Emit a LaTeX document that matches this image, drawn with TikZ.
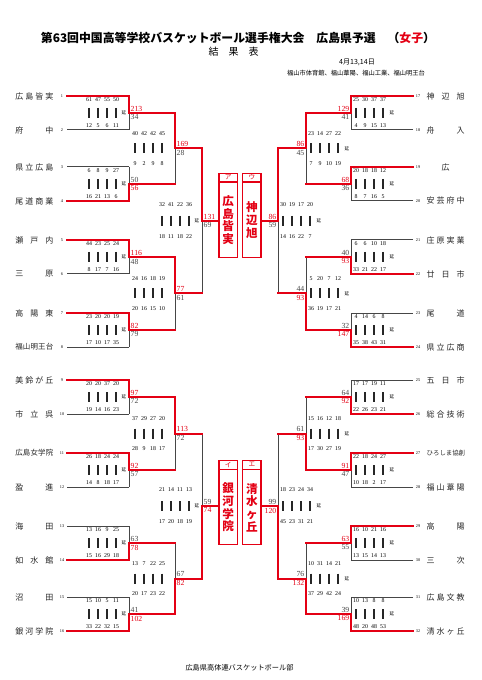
\documentclass[tikz,border=0pt]{standalone}
\usepackage{fontspec}
\setmainfont{Liberation Serif}
\newfontfamily\cjk{Noto Sans CJK JP}
\definecolor{rd}{RGB}{228,0,20}
\definecolor{bk}{RGB}{70,70,70}
\pgfdeclarelayer{losel}
\pgfdeclarelayer{winl}
\pgfdeclarelayer{redl}
\pgfsetlayers{main,losel,winl,redl}
\tikzset{
 win/.style={draw=rd, line width=1.5pt, line cap=rect},
 lose/.style={draw=bk, line width=0.75pt},
 barst/.style={draw=black!85, line width=0.9pt},
 namef/.style={font=\cjk\fontsize{6}{7}\selectfont, inner sep=0pt, text=black!85},
 numf/.style={font=\fontsize{3.2}{3.5}\selectfont, inner sep=0pt},
 perf/.style={font=\fontsize{4.4}{5}\selectfont, inner sep=0pt},
 scf/.style={font=\fontsize{5.8}{6}\selectfont, inner sep=0pt},
 enf/.style={font=\cjk\fontsize{3.4}{3.5}\selectfont, inner sep=0pt},
 boxst/.style={draw=rd, line width=1.1pt, minimum width=13.7pt, minimum height=63pt, inner sep=0pt},
 hdf/.style={font=\cjk\fontsize{5}{5}\selectfont, text=rd, inner sep=0pt},
 bodyf/.style={font=\cjk\bfseries\fontsize{8.7}{9.5}\selectfont, text=rd, inner sep=0pt, align=center},
}
\newcommand\nm[1]{\makebox[28.5pt][s]{#1}}
\newcommand\nmf[2]{{\fontsize{#1}{6}\selectfont\makebox[28.5pt][s]{#2}}}
\newcommand\teamL[4]{%
 \node[namef, anchor=west] (tn#1) at (15,#2) {#3};
 \node[numf] (tk#1) at (62,#2) {#1};
 \coordinate (ts#1) at (67,#2);
 \coordinate (te#1) at (129,#2);
 \begin{pgfonlayer}{#4l}\draw[#4] (ts#1) -- (te#1);\end{pgfonlayer}
}
\newcommand\teamR[4]{%
 \node[namef, anchor=east] (tn#1) at (465,#2) {#3};
 \node[numf] (tk#1) at (418,#2) {#1};
 \coordinate (ts#1) at (413,#2);
 \coordinate (te#1) at (351,#2);
 \begin{pgfonlayer}{#4l}\draw[#4] (ts#1) -- (te#1);\end{pgfonlayer}
}
\newcommand\match[9]{%
 \pgfmathsetmacro\ym{(#3+#4)/2}%
 \coordinate (#9t) at (#2,#3);
 \coordinate (#9b) at (#2,#4);
 \coordinate (#9m) at (#2,\ym);
 \coordinate (#9o) at (#5,\ym);
 \ifnum#6=1
  \draw[lose] (#9m) -- (#9b);
  \begin{pgfonlayer}{redl}\draw[win] (#9t) -- (#9m);\end{pgfonlayer}
  \def\ctop{rd}\def\cbot{bk}%
 \else
  \draw[lose] (#9t) -- (#9m);
  \begin{pgfonlayer}{redl}\draw[win] (#9m) -- (#9b);\end{pgfonlayer}
  \def\ctop{bk}\def\cbot{rd}%
 \fi
 \begin{pgfonlayer}{redl}\draw[win] (#9m) -- (#9o);\end{pgfonlayer}
 \ifnum#1=0
  \node[scf, anchor=south west, text=\ctop] (#9st) at ([xshift=1.1pt,yshift=1.2pt]#9m) {#7};
  \node[scf, anchor=north west, text=\cbot] (#9sb) at ([xshift=1.1pt,yshift=-1.2pt]#9m) {#8};
 \else
  \node[scf, anchor=south east, text=\ctop] (#9st) at ([xshift=-1.1pt,yshift=1.2pt]#9m) {#7};
  \node[scf, anchor=north east, text=\cbot] (#9sb) at ([xshift=-1.1pt,yshift=-1.2pt]#9m) {#8};
 \fi
}
\newcommand\per[9]{%
 \pgfmathsetmacro\pym{(#3+#4)/2}%
 \ifnum#1=0 \def\pxo{-49}\def\pex{-5}\else\def\pxo{-4}\def\pex{41}\fi
 \foreach \v [count=\i] in {#6} {\node[perf] (#9p\i) at ({#2+\pxo+9*\i},{\pym-#5}) {\v};}
 \foreach \v [count=\i] in {#7} {\node[perf] (#9q\i) at ({#2+\pxo+9*\i},{\pym+#5}) {\v};}
 \foreach \i in {1,...,4} {\draw[barst] ({#2+\pxo+9*\i},{\pym-5}) -- ({#2+\pxo+9*\i},{\pym+5});}
 \ifnum#8=1 \node[enf] (#9en) at ({#2+\pex},\pym) {延};\fi
}
\begin{document}
\begin{tikzpicture}[x=0.75pt,y=-0.75pt]
\useasboundingbox (0,0) rectangle (481,680);
\fill[white] (0,0) rectangle (481,680);
% headings
\node[font=\cjk\bfseries\fontsize{8.9}{9}\selectfont, inner sep=0pt] (title) at (238,38)
 {第63回中国高等学校バスケットボール選手権大会　広島県予選　（\textcolor{rd}{女子}）};
\node[font=\cjk\fontsize{7.5}{8}\selectfont, inner sep=0pt] (sub) at (233.5,52) {結　果　表};
\node[font=\cjk\fontsize{5.3}{6}\selectfont, inner sep=0pt] (date) at (357,62) {4月13,14日};
\node[font=\cjk\fontsize{4.7}{5}\selectfont, inner sep=0pt] (venue) at (356,73.3) {福山市体育館、福山葦陽、福山工業、福山明王台};
\node[font=\cjk\fontsize{5.4}{6}\selectfont, inner sep=0pt] (foot) at (239.5,668) {広島県高体連バスケットボール部};
% left teams
\teamL{1}{96}{\nm{広\hfill 島\hfill 皆\hfill 実}}{win}
\teamL{2}{130}{\nm{府\hfill 中}}{lose}
\teamL{3}{167}{\nm{県\hfill 立\hfill 広\hfill 島}}{lose}
\teamL{4}{201}{\nm{尾\hfill 道\hfill 商\hfill 業}}{win}
\teamL{5}{240}{\nm{瀬\hfill 戸\hfill 内}}{win}
\teamL{6}{274}{\nm{三\hfill 原}}{lose}
\teamL{7}{313}{\nm{高\hfill 陽\hfill 東}}{win}
\teamL{8}{347}{\nmf{5.6}{福\hfill 山\hfill 明\hfill 王\hfill 台}}{lose}
\teamL{9}{380}{\nm{美\hfill 鈴\hfill が\hfill 丘}}{win}
\teamL{10}{414}{\nm{市\hfill 立\hfill 呉}}{lose}
\teamL{11}{453}{\nmf{5.6}{広\hfill 島\hfill 女\hfill 学\hfill 院}}{win}
\teamL{12}{487}{\nm{盈\hfill 進}}{lose}
\teamL{13}{526}{\nm{海\hfill 田}}{lose}
\teamL{14}{560}{\nm{如\hfill 水\hfill 館}}{win}
\teamL{15}{597}{\nm{沼\hfill 田}}{lose}
\teamL{16}{631}{\nm{銀\hfill 河\hfill 学\hfill 院}}{win}
% right teams
\teamR{17}{96}{\nm{神\hfill 辺\hfill 旭}}{win}
\teamR{18}{130}{\nm{舟\hfill 入}}{lose}
\teamR{19}{167}{\nm{\hfill 広\hfill}}{win}
\teamR{20}{201}{\nm{安\hfill 芸\hfill 府\hfill 中}}{lose}
\teamR{21}{240}{\nm{庄\hfill 原\hfill 実\hfill 業}}{lose}
\teamR{22}{274}{\nm{廿\hfill 日\hfill 市}}{win}
\teamR{23}{313}{\nm{尾\hfill 道}}{lose}
\teamR{24}{347}{\nm{県\hfill 立\hfill 広\hfill 商}}{win}
\teamR{25}{380}{\nm{五\hfill 日\hfill 市}}{lose}
\teamR{26}{414}{\nm{総\hfill 合\hfill 技\hfill 術}}{win}
\teamR{27}{453}{\nmf{4.8}{ひろしま協創}}{win}
\teamR{28}{487}{\nm{福\hfill 山\hfill 葦\hfill 陽}}{lose}
\teamR{29}{526}{\nm{高\hfill 陽}}{win}
\teamR{30}{560}{\nm{三\hfill 次}}{lose}
\teamR{31}{597}{\nm{広\hfill 島\hfill 文\hfill 教}}{lose}
\teamR{32}{631}{\nm{清\hfill 水\hfill ヶ\hfill 丘}}{win}
% left round 1
\match{0}{129}{96}{130}{175}{1}{213}{34}{ma}
\per{0}{129}{96}{130}{13}{61,47,55,50}{12,5,6,11}{1}{ma}
\match{0}{129}{167}{201}{175}{2}{50}{56}{mb}
\per{0}{129}{167}{201}{13}{6,8,9,27}{16,21,13,6}{1}{mb}
\match{0}{129}{240}{274}{175}{1}{116}{48}{mc}
\per{0}{129}{240}{274}{13}{44,23,25,24}{8,17,7,16}{1}{mc}
\match{0}{129}{313}{347}{175}{1}{82}{79}{md}
\per{0}{129}{313}{347}{13}{23,20,20,19}{17,10,17,35}{1}{md}
\match{0}{129}{380}{414}{175}{1}{97}{72}{me}
\per{0}{129}{380}{414}{13}{20,20,37,20}{19,14,16,23}{1}{me}
\match{0}{129}{453}{487}{175}{1}{92}{57}{mf}
\per{0}{129}{453}{487}{13}{26,18,24,24}{14,8,18,17}{1}{mf}
\match{0}{129}{526}{560}{175}{2}{63}{78}{mg}
\per{0}{129}{526}{560}{13}{13,16,9,25}{15,16,29,18}{1}{mg}
\match{0}{129}{597}{631}{175}{2}{41}{102}{mh}
\per{0}{129}{597}{631}{13}{15,10,5,11}{33,22,32,15}{1}{mh}
% left round 2
\match{0}{175}{113}{184}{202}{1}{169}{28}{ra}
\per{0}{175}{113}{184}{15}{40,42,42,45}{9,2,9,8}{0}{ra}
\match{0}{175}{257}{330}{202}{1}{77}{61}{rb}
\per{0}{175}{257}{330}{15}{24,16,18,19}{20,16,15,10}{0}{rb}
\match{0}{175}{397}{470}{202}{1}{113}{72}{rc}
\per{0}{175}{397}{470}{15}{37,29,27,20}{28,9,18,17}{0}{rc}
\match{0}{175}{543}{614}{202}{2}{67}{82}{rd}
\per{0}{175}{543}{614}{15}{13,7,22,25}{20,17,23,22}{0}{rd}
% left semis
\match{0}{202}{148.5}{293.5}{219}{1}{131}{69}{sa}
\per{0}{202}{148.5}{293.5}{16}{32,41,22,36}{18,11,18,22}{1}{sa}
\match{0}{202}{433.5}{578.5}{219}{2}{59}{74}{sb}
\per{0}{202}{433.5}{578.5}{16}{21,14,11,13}{17,20,18,19}{1}{sb}
% right round 1
\match{1}{351}{96}{130}{306}{1}{129}{41}{mi}
\per{1}{351}{96}{130}{13}{25,30,37,37}{4,9,15,13}{1}{mi}
\match{1}{351}{167}{201}{306}{1}{68}{36}{mj}
\per{1}{351}{167}{201}{13}{20,18,18,12}{8,7,16,5}{1}{mj}
\match{1}{351}{240}{274}{306}{2}{40}{93}{mk}
\per{1}{351}{240}{274}{13}{6,6,10,18}{33,21,22,17}{1}{mk}
\match{1}{351}{313}{347}{306}{2}{32}{147}{ml}
\per{1}{351}{313}{347}{13}{4,14,6,8}{35,38,43,31}{1}{ml}
\match{1}{351}{380}{414}{306}{2}{64}{92}{mm}
\per{1}{351}{380}{414}{13}{17,17,19,11}{22,26,23,21}{1}{mm}
\match{1}{351}{453}{487}{306}{1}{91}{47}{mn}
\per{1}{351}{453}{487}{13}{22,18,24,27}{10,18,2,17}{1}{mn}
\match{1}{351}{526}{560}{306}{1}{63}{55}{mo}
\per{1}{351}{526}{560}{13}{16,10,21,16}{13,15,14,13}{1}{mo}
\match{1}{351}{597}{631}{306}{2}{39}{169}{mp}
\per{1}{351}{597}{631}{13}{10,13,8,8}{48,20,48,53}{1}{mp}
% right round 2
\match{1}{306}{113}{184}{278}{1}{86}{45}{re}
\per{1}{306}{113}{184}{15}{23,14,27,22}{7,9,10,19}{1}{re}
\match{1}{306}{257}{330}{278}{2}{44}{93}{rf}
\per{1}{306}{257}{330}{15}{5,20,7,12}{36,19,17,21}{1}{rf}
\match{1}{306}{397}{470}{278}{2}{61}{93}{rg}
\per{1}{306}{397}{470}{15}{15,16,12,18}{17,30,27,19}{1}{rg}
\match{1}{306}{543}{614}{278}{2}{76}{132}{rh}
\per{1}{306}{543}{614}{15}{10,31,14,21}{37,29,42,24}{1}{rh}
% right semis
\match{1}{278}{148.5}{293.5}{261}{1}{86}{59}{sc}
\per{1}{278}{148.5}{293.5}{16}{30,19,17,20}{14,16,22,7}{1}{sc}
\match{1}{278}{433.5}{578.5}{261}{2}{99}{120}{sd}
\per{1}{278}{433.5}{578.5}{16}{18,23,24,34}{45,23,31,21}{1}{sd}
% boxes
\node[boxst] (bxA) at (228.15,215.3) {};
\node[boxst] (bxU) at (251.85,215.3) {};
\node[boxst] (bxI) at (228.15,502.65) {};
\node[boxst] (bxE) at (251.85,502.65) {};
\foreach \b/\h/\t in {bxA/ア/{広\\島\\皆\\実}, bxU/ウ/{神\\辺\\旭}, bxI/イ/{銀\\河\\学\\院}, bxE/エ/{清\\水\\ヶ\\丘}}{
 \draw[draw=rd, line width=1.1pt] ([yshift=-7.2pt]\b.north west) -- ([yshift=-7.2pt]\b.north east);
 \node[hdf] (\b h) at ([yshift=-3.6pt]\b.north) {\h};
 \node[bodyf] (\b t) at ([yshift=-3.6pt]\b.center) {\t};
}
\end{tikzpicture}
\end{document}
